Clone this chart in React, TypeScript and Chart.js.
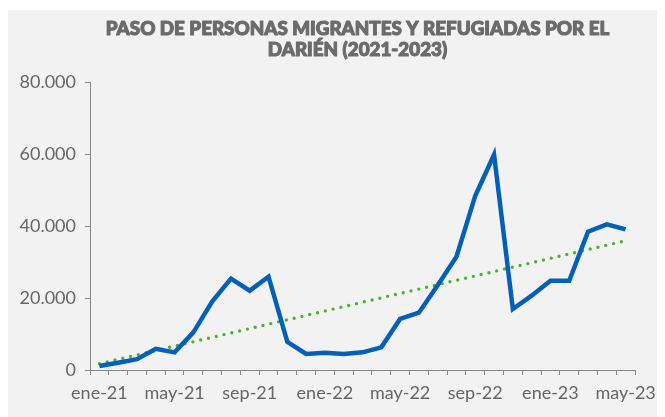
import React, { useEffect, useRef } from "react";
import { Chart, registerables } from "chart.js";

Chart.register(...registerables);

const MONTHS = [
  "ene-21", "feb-21", "mar-21", "abr-21", "may-21", "jun-21", "jul-21", "ago-21", "sep-21", "oct-21", "nov-21", "dic-21",
  "ene-22", "feb-22", "mar-22", "abr-22", "may-22", "jun-22", "jul-22", "ago-22", "sep-22", "oct-22", "nov-22", "dic-22",
  "ene-23", "feb-23", "mar-23", "abr-23", "may-23",
];

const MIGRANTS = [
  1100, 2000, 3000, 5900, 4900, 10470, 18980, 25370, 22040, 25930, 7800, 4440,
  4800, 4440, 4900, 6300, 14170, 15930, 23520, 31480, 48420, 59800, 16940, 20640,
  24800, 24800, 38420, 40470, 39080,
];

// Linear trendline: value at first and last month
const TREND_START = 1750;
const TREND_END = 35900;

const Y_TICKS = [0, 20000, 40000, 60000, 80000];

const TITLE_LINES = ["PASO DE PERSONAS MIGRANTES Y REFUGIADAS POR EL", "DARIÉN (2021-2023)"];

const TITLE_SIZE = 18.8;
const TITLE_LH = 1.08;
const TITLE_PAD_TOP = 11;
const TITLE_COLOR = "#6b6b6b";

const fmt = (v: number) => String(v).replace(/\B(?=(\d{3})+(?!\d))/g, ".");

const bgPlugin = {
  id: "bgPanel",
  beforeDraw(chart: any) {
    const { ctx, width, height } = chart;
    ctx.save();
    ctx.fillStyle = "#f2f2f2";
    ctx.fillRect(0, 2, width, height - 2);
    ctx.restore();
  },
};

// Draws the title heavier (Lato Black look) in the space reserved by the title block
const heavyTitle = {
  id: "heavyTitle",
  afterDraw(chart: any) {
    const tb = chart.titleBlock;
    if (!tb) return;
    const { ctx } = chart;
    const cx = (chart.chartArea.left + chart.chartArea.right) / 2 - 5;
    const lh = TITLE_SIZE * TITLE_LH;
    ctx.save();
    ctx.font = `900 ${TITLE_SIZE}px Lato`;
    ctx.fillStyle = TITLE_COLOR;
    ctx.strokeStyle = TITLE_COLOR;
    ctx.lineWidth = 1.1;
    ctx.lineJoin = "round";
    ctx.textAlign = "center";
    ctx.textBaseline = "middle";
    TITLE_LINES.forEach((line, i) => {
      const y = tb.top + TITLE_PAD_TOP + lh * (i + 0.5);
      ctx.fillText(line, cx, y);
      ctx.strokeText(line, cx, y);
    });
    ctx.restore();
  },
};

export default function App() {
  const ref = useRef<HTMLCanvasElement | null>(null);

  useEffect(() => {
    if (!ref.current) return;
    const last = MONTHS.length - 1;
    const trend = MONTHS.map((_, i) => (i === 0 ? TREND_START : i === last ? TREND_END : null));
    const chart = new Chart(ref.current, {
      type: "line",
      data: {
        labels: MONTHS,
        datasets: [
          {
            label: "Tendencia",
            data: trend,
            spanGaps: true,
            borderColor: "#52ae32",
            borderWidth: 3.4,
            borderDash: [0, 8],
            borderCapStyle: "round",
            pointRadius: 0,
            tension: 0,
            order: 2,
          },
          {
            label: "Personas",
            data: MIGRANTS,
            borderColor: "#0060b9",
            borderWidth: 4.5,
            borderJoinStyle: "miter",
            pointRadius: 0,
            tension: 0,
            order: 1,
          },
        ],
      },
      options: {
        responsive: false,
        animation: false,
        layout: { padding: { left: 0, right: 30, top: 0, bottom: 0 } },
        plugins: {
          legend: { display: false },
          tooltip: { enabled: false },
          title: {
            display: true,
            text: TITLE_LINES,
            color: "rgba(0,0,0,0)",
            fullSize: false,
            font: { family: "Lato", size: TITLE_SIZE, weight: "900", lineHeight: TITLE_LH },
            padding: { top: TITLE_PAD_TOP, bottom: 22.4 },
          },
        },
        scales: {
          x: {
            type: "category",
            offset: true,
            grid: {
              display: true,
              offset: true,
              drawOnChartArea: false,
              drawTicks: true,
              tickLength: 5,
              color: "#878787",
            },
            border: { display: true, color: "#878787", width: 1 },
            ticks: {
              autoSkip: false,
              maxRotation: 0,
              minRotation: 0,
              padding: 7,
              color: "#666666",
              font: { family: "Lato", size: 18 },
              callback: (_v: any, i: number) => (i % 4 === 0 ? MONTHS[i] : ""),
            },
            afterFit: (s: any) => {
              s.height = 47;
            },
          },
          y: {
            min: 0,
            max: 80000,
            afterBuildTicks: (s: any) => {
              s.ticks = Y_TICKS.map((v) => ({ value: v }));
            },
            grid: {
              display: true,
              drawOnChartArea: false,
              drawTicks: true,
              tickLength: 5,
              color: "#878787",
            },
            border: { display: true, color: "#878787", width: 1 },
            ticks: {
              padding: 9,
              color: "#666666",
              font: { family: "Lato", size: 18 },
              callback: (v: any) => fmt(Number(v)),
            },
            afterFit: (s: any) => {
              s.width = 82;
            },
          },
        },
      },
      plugins: [bgPlugin, heavyTitle],
    });
    return () => chart.destroy();
  }, []);

  return (
    <div style={{ width: 657, height: 409 }}>
      <canvas ref={ref} width={657} height={409} style={{ display: "block" }} />
    </div>
  );
}
